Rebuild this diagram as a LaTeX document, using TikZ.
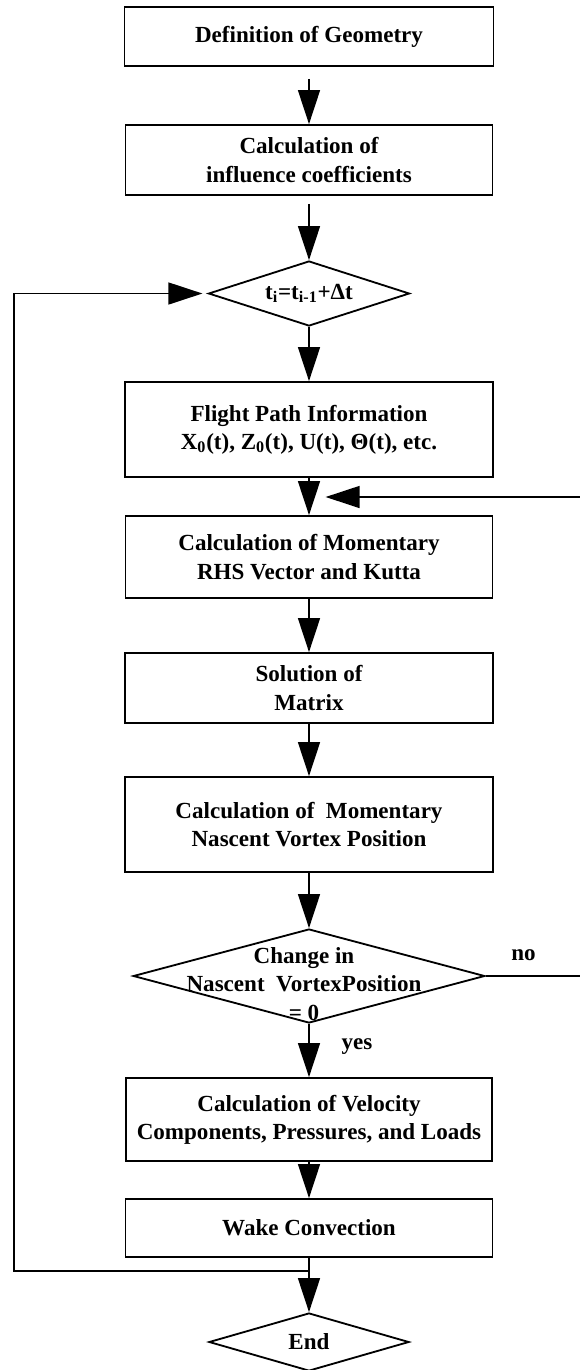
\documentclass[tikz,border=0pt]{standalone}
\usepackage{fontspec}
\setmainfont{Liberation Serif}
\usetikzlibrary{shapes.geometric, arrows.meta, positioning}

\tikzset{
    procbox/.style={draw, line width=1.3pt, align=center, inner sep=0pt, font=\bfseries\fontsize{16.4}{20}\selectfont},
    decision/.style={draw, diamond, line width=1.3pt, align=center, inner sep=0pt, font=\bfseries\fontsize{16.4}{20}\selectfont},
    flowarrow/.style={line width=1pt, -{Triangle[length=0.85cm, width=0.55cm]}},
    lbl/.style={font=\bfseries\fontsize{16.4}{20}\selectfont, align=center, inner sep=0pt}
}

\begin{document}
\begin{tikzpicture}
    \useasboundingbox (0,0) rectangle (14.5,-34.25);

    % Setup
    \node[procbox, minimum width=9.225cm, minimum height=1.475cm] (geom) at (7.725,-0.9125) {Definition of Geometry};
    \node[procbox, minimum width=9.175cm, minimum height=1.75cm] (coef) at (7.725,-4.0) {Calculation of\\influence coefficients};

    % Time step loop
    \node[decision, minimum width=5.025cm, minimum height=1.625cm, aspect=3.1] (tstep) at (7.725,-7.3375) {t\textsubscript{i}=t\textsubscript{i-1}+Δt};
    \node[procbox, minimum width=9.19cm, minimum height=2.375cm] (path) at (7.725,-10.7375) {Flight Path Information\\X\textsubscript{0}(t), Z\textsubscript{0}(t), U(t), Θ(t), etc.};
    \node[procbox, minimum width=9.175cm, minimum height=2.05cm] (rhs) at (7.725,-13.925) {Calculation of Momentary\\RHS Vector and Kutta};
    \node[procbox, minimum width=9.2cm, minimum height=1.75cm] (matrix) at (7.725,-17.2) {Solution of\\Matrix};
    \node[procbox, minimum width=9.2cm, minimum height=2.375cm] (vortex) at (7.725,-20.6125) {Calculation of~~Momentary\\Nascent Vortex Position};

    % Convergence check
    \node[decision, minimum width=8.79cm, minimum height=2.35cm] (chg) at (7.725,-24.4) {};
    \node[lbl] (chgtxt) at (7.6,-24.6) {Change in\\Nascent~~VortexPosition\\= 0};
    \node[lbl] (nolbl) at (13.09,-23.875) {no};
    \node[lbl] (yeslbl) at (8.925,-26.175) {yes};

    \node[procbox, minimum width=9.15cm, minimum height=2.075cm] (velo) at (7.725,-27.9875) {Calculation of Velocity\\Components, Pressures, and Loads};
    \node[procbox, minimum width=9.175cm, minimum height=1.45cm] (wake) at (7.725,-30.7) {Wake Convection};
    \node[decision, minimum width=5cm, minimum height=1.45cm, aspect=3.4] (stop) at (7.725,-33.55) {End};

    % Main flow
    \draw[flowarrow, shorten <=0.3cm] (geom) -- (coef);
    \draw[flowarrow, shorten <=0.2cm] (coef) -- (tstep);
    \draw[flowarrow] (tstep) -- (path);
    \draw[flowarrow] (path) -- (rhs);
    \draw[flowarrow] (rhs) -- (matrix);
    \draw[flowarrow] (matrix) -- (vortex);
    \draw[flowarrow] (vortex) -- (chg);
    \draw[flowarrow] (chg) -- (velo);
    \draw[flowarrow] (velo) -- (wake);
    \draw[flowarrow] (wake) -- (stop);

    % Loops
    \coordinate (back) at (0.35,-31.775);
    \coordinate (again) at (14.65,-24.4);
    \coordinate (merge) at (8.14,-12.425);
    \draw[flowarrow, shorten >=0.13cm] (wake.south) -- (wake.south |- back) -- (back) |- (tstep.west);
    \draw[flowarrow] (chg.east) -- (again) |- (merge);
\end{tikzpicture}
\end{document}
